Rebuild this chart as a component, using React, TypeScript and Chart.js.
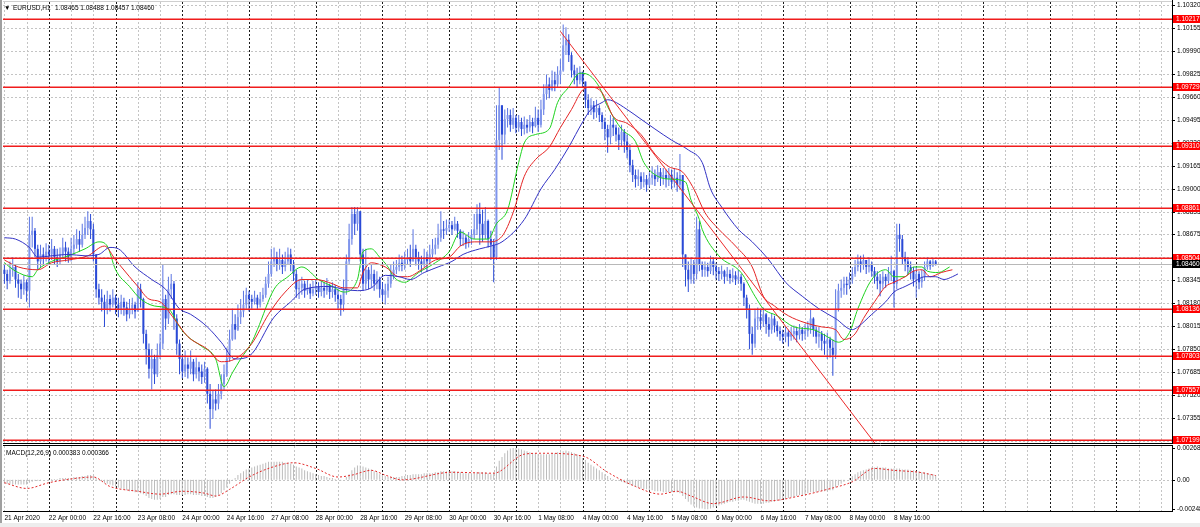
import { useEffect, useRef } from 'react';
import { Chart, registerables } from 'chart.js';

Chart.register(...registerables);

const FONT_FAMILY = "'Liberation Sans', Arial, sans-serif";
const FONT_SIZE = 6.5;

const chartTitle = 'EURUSD,H1';
const titleValues = '1.08465 1.08488 1.08457 1.08460';
const macdTitle = 'MACD(12,26,9) 0.000383 0.000366';

const timeLabels = ['21 Apr 2020', '22 Apr 00:00', '22 Apr 16:00', '23 Apr 08:00', '24 Apr 00:00', '24 Apr 16:00', '27 Apr 08:00', '28 Apr 00:00', '28 Apr 16:00', '29 Apr 08:00', '30 Apr 00:00', '30 Apr 16:00', '1 May 08:00', '4 May 00:00', '4 May 16:00', '5 May 08:00', '6 May 00:00', '6 May 16:00', '7 May 08:00', '8 May 00:00', '8 May 16:00'];
const timeLabelIdx = [0, 16, 32, 48, 64, 80, 96, 112, 128, 144, 160, 176, 192, 208, 224, 240, 256, 272, 288, 304, 320];
const daySeparatorIdx = [16, 40, 64, 88, 112, 136, 160, 184, 208, 232, 256, 280, 304, 328, 352, 376, 400];

const priceTicks = [1.1032, 1.10155, 1.0999, 1.09825, 1.0966, 1.09495, 1.0933, 1.09165, 1.09, 1.08835, 1.08675, 1.0851, 1.08345, 1.0818, 1.08015, 1.0785, 1.07685, 1.0752, 1.07355, 1.0719];
const levels = [1.10217, 1.09729, 1.0931, 1.08861, 1.08504, 1.08136, 1.07803, 1.07557, 1.07199];
const bidPrice = 1.0846;

const firstOpen = 1.0842;
const closes = [
  1.0839, 1.0834, 1.0842, 1.0844, 1.0835, 1.0832, 1.0828, 1.0833, 1.0827, 1.0867, 1.0870, 1.0857, 1.0848, 1.0853, 1.0851, 1.0855,
  1.0853, 1.0857, 1.0851, 1.0848, 1.0853, 1.0858, 1.0855, 1.0851, 1.0857, 1.0860, 1.0864, 1.0860, 1.0867, 1.0872, 1.0877, 1.0871,
  1.0853, 1.0828, 1.0822, 1.0819, 1.0814, 1.0821, 1.0817, 1.0822, 1.0817, 1.0814, 1.0819, 1.0815, 1.0810, 1.0814, 1.0817, 1.0812,
  1.0828, 1.0821, 1.0796, 1.0785, 1.0771, 1.0778, 1.0767, 1.0781, 1.0789, 1.0821, 1.0807, 1.0828, 1.0832, 1.0807, 1.0789, 1.0778,
  1.0769, 1.0774, 1.0771, 1.0776, 1.0767, 1.0772, 1.0769, 1.0765, 1.0771, 1.0753, 1.0742, 1.0749, 1.0746, 1.0753, 1.0760, 1.0767,
  1.0778, 1.0792, 1.0803, 1.0799, 1.0808, 1.0812, 1.0817, 1.0824, 1.0821, 1.0819, 1.0822, 1.0817, 1.0821, 1.0824, 1.0832, 1.0839,
  1.0848, 1.0851, 1.0846, 1.0849, 1.0844, 1.0848, 1.0853, 1.0846, 1.0839, 1.0828, 1.0829, 1.0832, 1.0827, 1.0829, 1.0825, 1.0828,
  1.0830, 1.0826, 1.0829, 1.0827, 1.0831, 1.0826, 1.0828, 1.0824, 1.0821, 1.0817, 1.0828, 1.0848, 1.0864, 1.0882, 1.0875, 1.0884,
  1.0853, 1.0832, 1.0842, 1.0835, 1.0839, 1.0832, 1.0835, 1.0828, 1.0824, 1.0827, 1.0832, 1.0839, 1.0842, 1.0844, 1.0847, 1.0845,
  1.0849, 1.0851, 1.0848, 1.0857, 1.0851, 1.0848, 1.0846, 1.0851, 1.0848, 1.0853, 1.0857, 1.0860, 1.0865, 1.0871, 1.0870, 1.0872,
  1.0874, 1.0871, 1.0875, 1.0870, 1.0864, 1.0865, 1.0861, 1.0864, 1.0867, 1.0871, 1.0882, 1.0875, 1.0867, 1.0877, 1.0864, 1.0860,
  1.0851, 1.0935, 1.0960, 1.0939, 1.0950, 1.0953, 1.0946, 1.0951, 1.0944, 1.0948, 1.0943, 1.0946, 1.0944, 1.0948, 1.0945, 1.0951,
  1.0946, 1.0957, 1.0968, 1.0975, 1.0971, 1.0978, 1.0975, 1.0982, 1.0985, 1.1003, 1.1007, 1.0996, 1.0985, 1.0982, 1.0978, 1.0984,
  1.0977, 1.0964, 1.0958, 1.0960, 1.0955, 1.0958, 1.0953, 1.0948, 1.0943, 1.0937, 1.0946, 1.0944, 1.0939, 1.0935, 1.0941, 1.0934,
  1.0928, 1.0917, 1.0910, 1.0907, 1.0909, 1.0905, 1.0907, 1.0903, 1.0908, 1.0910, 1.0907, 1.0912, 1.0908, 1.0910, 1.0907, 1.0910,
  1.0905, 1.0908, 1.0903, 1.0910, 1.0853, 1.0842, 1.0835, 1.0846, 1.0839, 1.0871, 1.0846, 1.0842, 1.0844, 1.0841, 1.0848, 1.0844,
  1.0841, 1.0839, 1.0841, 1.0837, 1.0839, 1.0836, 1.0838, 1.0835, 1.0837, 1.0832, 1.0822, 1.0814, 1.0796, 1.0789, 1.0807, 1.0808,
  1.0805, 1.0810, 1.0803, 1.0799, 1.0807, 1.0802, 1.0798, 1.0796, 1.0794, 1.0797, 1.0794, 1.0796, 1.0798, 1.0795, 1.0799, 1.0796,
  1.0798, 1.0801, 1.0807, 1.0799, 1.0794, 1.0796, 1.0791, 1.0789, 1.0792, 1.0786, 1.0781, 1.0814, 1.0827, 1.0829, 1.0832, 1.0831,
  1.0835, 1.0839, 1.0844, 1.0848, 1.0846, 1.0849, 1.0844, 1.0846, 1.0841, 1.0837, 1.0834, 1.0832, 1.0837, 1.0834, 1.0839, 1.0841,
  1.0832, 1.0867, 1.0864, 1.0851, 1.0848, 1.0844, 1.0841, 1.0835, 1.0839, 1.0833, 1.0837, 1.0844, 1.0848, 1.0845, 1.0848, 1.0846,
];
const highs = [
  1.0846, 1.0842, 1.0848, 1.0851, 1.0846, 1.0839, 1.0835, 1.0838, 1.0835, 1.0880, 1.0880, 1.0872, 1.0860, 1.0860, 1.0858, 1.0861,
  1.0860, 1.0864, 1.0859, 1.0857, 1.0858, 1.0865, 1.0862, 1.0858, 1.0865, 1.0867, 1.0871, 1.0870, 1.0875, 1.0880, 1.0884, 1.0882,
  1.0875, 1.0853, 1.0832, 1.0828, 1.0824, 1.0827, 1.0824, 1.0828, 1.0824, 1.0822, 1.0824, 1.0822, 1.0819, 1.0821, 1.0822, 1.0819,
  1.0833, 1.0832, 1.0822, 1.0799, 1.0789, 1.0785, 1.0781, 1.0789, 1.0796, 1.0846, 1.0824, 1.0837, 1.0839, 1.0834, 1.0810, 1.0792,
  1.0781, 1.0784, 1.0779, 1.0784, 1.0778, 1.0779, 1.0776, 1.0774, 1.0776, 1.0772, 1.0760, 1.0755, 1.0756, 1.0760, 1.0767, 1.0774,
  1.0786, 1.0799, 1.0814, 1.0810, 1.0817, 1.0821, 1.0827, 1.0829, 1.0827, 1.0824, 1.0827, 1.0824, 1.0826, 1.0829, 1.0837, 1.0848,
  1.0857, 1.0858, 1.0855, 1.0857, 1.0853, 1.0855, 1.0858, 1.0857, 1.0849, 1.0842, 1.0835, 1.0837, 1.0834, 1.0835, 1.0832, 1.0834,
  1.0835, 1.0833, 1.0834, 1.0833, 1.0836, 1.0832, 1.0833, 1.0831, 1.0828, 1.0824, 1.0835, 1.0853, 1.0875, 1.0887, 1.0887, 1.0887,
  1.0884, 1.0857, 1.0857, 1.0844, 1.0846, 1.0842, 1.0841, 1.0837, 1.0833, 1.0832, 1.0837, 1.0846, 1.0848, 1.0849, 1.0853, 1.0852,
  1.0855, 1.0857, 1.0860, 1.0871, 1.0860, 1.0855, 1.0852, 1.0857, 1.0855, 1.0860, 1.0864, 1.0865, 1.0875, 1.0884, 1.0877, 1.0878,
  1.0878, 1.0877, 1.0880, 1.0877, 1.0871, 1.0870, 1.0867, 1.0869, 1.0871, 1.0882, 1.0889, 1.0890, 1.0885, 1.0887, 1.0878, 1.0870,
  1.0864, 1.0960, 1.0973, 1.0957, 1.0957, 1.0958, 1.0957, 1.0958, 1.0953, 1.0953, 1.0951, 1.0952, 1.0950, 1.0953, 1.0951, 1.0959,
  1.0957, 1.0964, 1.0975, 1.0982, 1.0980, 1.0985, 1.0984, 1.0988, 1.0993, 1.1018, 1.1016, 1.1011, 1.0998, 1.0989, 1.0987, 1.0988,
  1.0983, 1.0977, 1.0968, 1.0965, 1.0963, 1.0964, 1.0960, 1.0955, 1.0951, 1.0946, 1.0953, 1.0951, 1.0946, 1.0944, 1.0946, 1.0943,
  1.0939, 1.0932, 1.0921, 1.0914, 1.0914, 1.0912, 1.0912, 1.0910, 1.0912, 1.0916, 1.0914, 1.0917, 1.0915, 1.0915, 1.0914, 1.0915,
  1.0914, 1.0915, 1.0912, 1.0925, 1.0910, 1.0853, 1.0848, 1.0851, 1.0849, 1.0880, 1.0877, 1.0848, 1.0848, 1.0847, 1.0852, 1.0851,
  1.0847, 1.0844, 1.0845, 1.0842, 1.0844, 1.0842, 1.0843, 1.0841, 1.0842, 1.0839, 1.0833, 1.0824, 1.0817, 1.0801, 1.0814, 1.0815,
  1.0814, 1.0815, 1.0811, 1.0808, 1.0811, 1.0809, 1.0805, 1.0801, 1.0799, 1.0801, 1.0799, 1.0801, 1.0802, 1.0801, 1.0803, 1.0801,
  1.0803, 1.0805, 1.0814, 1.0808, 1.0801, 1.0801, 1.0798, 1.0796, 1.0797, 1.0794, 1.0792, 1.0828, 1.0832, 1.0835, 1.0837, 1.0837,
  1.0840, 1.0844, 1.0849, 1.0853, 1.0852, 1.0853, 1.0849, 1.0851, 1.0848, 1.0844, 1.0841, 1.0839, 1.0841, 1.0839, 1.0844, 1.0852,
  1.0842, 1.0875, 1.0875, 1.0867, 1.0855, 1.0851, 1.0848, 1.0844, 1.0844, 1.0841, 1.0842, 1.0848, 1.0851, 1.0849, 1.0850, 1.0849,
];
const lows = [
  1.0832, 1.0828, 1.0832, 1.0837, 1.0829, 1.0822, 1.0821, 1.0824, 1.0819, 1.0815, 1.0858, 1.0851, 1.0842, 1.0844, 1.0846, 1.0848,
  1.0846, 1.0849, 1.0846, 1.0844, 1.0846, 1.0851, 1.0848, 1.0847, 1.0848, 1.0853, 1.0857, 1.0855, 1.0858, 1.0864, 1.0867, 1.0864,
  1.0848, 1.0822, 1.0817, 1.0812, 1.0801, 1.0810, 1.0812, 1.0815, 1.0810, 1.0808, 1.0810, 1.0809, 1.0805, 1.0807, 1.0810, 1.0807,
  1.0814, 1.0815, 1.0789, 1.0774, 1.0764, 1.0756, 1.0760, 1.0765, 1.0778, 1.0785, 1.0799, 1.0803, 1.0821, 1.0799, 1.0781, 1.0767,
  1.0764, 1.0765, 1.0764, 1.0767, 1.0762, 1.0764, 1.0762, 1.0760, 1.0761, 1.0746, 1.0728, 1.0735, 1.0741, 1.0742, 1.0749, 1.0755,
  1.0765, 1.0776, 1.0791, 1.0792, 1.0798, 1.0803, 1.0808, 1.0814, 1.0812, 1.0814, 1.0817, 1.0814, 1.0815, 1.0819, 1.0822, 1.0829,
  1.0837, 1.0844, 1.0841, 1.0842, 1.0839, 1.0841, 1.0846, 1.0841, 1.0834, 1.0822, 1.0821, 1.0824, 1.0822, 1.0824, 1.0821, 1.0823,
  1.0824, 1.0822, 1.0823, 1.0822, 1.0824, 1.0821, 1.0822, 1.0819, 1.0814, 1.0809, 1.0812, 1.0824, 1.0846, 1.0860, 1.0867, 1.0870,
  1.0848, 1.0827, 1.0828, 1.0828, 1.0829, 1.0827, 1.0828, 1.0822, 1.0819, 1.0817, 1.0822, 1.0829, 1.0835, 1.0839, 1.0841, 1.0841,
  1.0842, 1.0846, 1.0844, 1.0848, 1.0845, 1.0842, 1.0840, 1.0844, 1.0841, 1.0846, 1.0851, 1.0853, 1.0857, 1.0862, 1.0864, 1.0867,
  1.0869, 1.0867, 1.0870, 1.0865, 1.0859, 1.0859, 1.0857, 1.0858, 1.0860, 1.0864, 1.0867, 1.0860, 1.0862, 1.0864, 1.0858, 1.0849,
  1.0833, 1.0849, 1.0928, 1.0921, 1.0932, 1.0944, 1.0941, 1.0943, 1.0940, 1.0941, 1.0938, 1.0939, 1.0940, 1.0941, 1.0940, 1.0944,
  1.0941, 1.0944, 1.0953, 1.0964, 1.0965, 1.0970, 1.0970, 1.0973, 1.0975, 1.0984, 1.0996, 1.0991, 1.0980, 1.0975, 1.0973, 1.0975,
  1.0973, 1.0958, 1.0953, 1.0953, 1.0950, 1.0951, 1.0948, 1.0943, 1.0935, 1.0926, 1.0932, 1.0938, 1.0934, 1.0928, 1.0930, 1.0926,
  1.0922, 1.0912, 1.0905, 1.0901, 1.0902, 1.0900, 1.0901, 1.0898, 1.0901, 1.0903, 1.0902, 1.0905, 1.0902, 1.0903, 1.0901, 1.0902,
  1.0900, 1.0901, 1.0898, 1.0900, 1.0844, 1.0830, 1.0826, 1.0832, 1.0832, 1.0835, 1.0841, 1.0837, 1.0837, 1.0837, 1.0839, 1.0838,
  1.0835, 1.0834, 1.0835, 1.0832, 1.0834, 1.0832, 1.0833, 1.0831, 1.0832, 1.0827, 1.0816, 1.0807, 1.0785, 1.0781, 1.0786, 1.0799,
  1.0799, 1.0801, 1.0796, 1.0794, 1.0796, 1.0797, 1.0794, 1.0791, 1.0789, 1.0790, 1.0787, 1.0791, 1.0792, 1.0790, 1.0792, 1.0791,
  1.0792, 1.0794, 1.0796, 1.0794, 1.0789, 1.0786, 1.0784, 1.0781, 1.0778, 1.0779, 1.0766, 1.0778, 1.0812, 1.0822, 1.0824, 1.0824,
  1.0828, 1.0832, 1.0837, 1.0841, 1.0840, 1.0842, 1.0839, 1.0840, 1.0837, 1.0832, 1.0828, 1.0823, 1.0828, 1.0829, 1.0832, 1.0834,
  1.0815, 1.0828, 1.0855, 1.0846, 1.0841, 1.0839, 1.0835, 1.0830, 1.0822, 1.0828, 1.0829, 1.0834, 1.0842, 1.0842, 1.0844, 1.0845,
];

// Moving averages at the listed bar positions
const greenIdx = [0, 4, 10, 12, 17, 23, 29, 34, 37, 40, 45, 49, 54, 59, 63, 66, 71, 76, 79, 82, 85, 89, 91, 97, 102, 107, 113, 118, 122, 127, 129, 132, 135, 138, 140, 144, 149, 155, 160, 164, 169, 174, 177, 181, 185, 187, 191, 196, 199, 203, 207, 210, 214, 217, 222, 227, 230, 235, 240, 245, 247, 250, 251, 257, 265, 270, 273, 278, 284, 291, 296, 300, 304, 307, 312, 317, 320, 324, 327, 330, 332, 336, 340];
const greenVal = [1.0847, 1.0841, 1.0837, 1.0842, 1.0848, 1.0852, 1.0857, 1.0862, 1.0859, 1.0842, 1.0830, 1.0821, 1.0816, 1.0814, 1.0801, 1.0794, 1.0787, 1.0778, 1.0758, 1.0768, 1.0778, 1.0790, 1.0799, 1.0828, 1.0837, 1.0844, 1.0835, 1.0830, 1.0826, 1.0835, 1.0855, 1.0857, 1.0851, 1.0844, 1.0837, 1.0833, 1.0840, 1.0847, 1.0855, 1.0869, 1.0864, 1.0864, 1.0875, 1.0885, 1.0919, 1.0933, 1.0939, 1.0943, 1.0962, 1.0973, 1.0983, 1.0982, 1.0973, 1.0959, 1.0943, 1.0934, 1.0919, 1.0909, 1.0907, 1.0905, 1.0892, 1.0878, 1.0871, 1.0852, 1.0840, 1.0823, 1.0814, 1.0809, 1.0801, 1.0799, 1.0794, 1.0790, 1.0797, 1.0814, 1.0835, 1.0842, 1.0837, 1.0837, 1.0844, 1.0844, 1.0841, 1.0840, 1.0844];
const redIdx = [0, 5, 12, 17, 23, 30, 36, 40, 45, 48, 52, 56, 61, 66, 73, 78, 83, 89, 95, 101, 107, 112, 118, 122, 127, 129, 132, 137, 142, 145, 150, 155, 160, 164, 169, 174, 179, 183, 187, 191, 196, 200, 204, 208, 211, 215, 219, 224, 229, 234, 239, 244, 248, 252, 257, 263, 269, 273, 277, 282, 288, 294, 299, 302, 306, 309, 313, 317, 320, 324, 327, 330, 333, 337, 341];
const redVal = [1.0849, 1.0844, 1.0842, 1.0847, 1.0849, 1.0852, 1.0859, 1.0849, 1.0837, 1.0830, 1.0821, 1.0819, 1.0807, 1.0794, 1.0785, 1.0776, 1.0778, 1.0789, 1.0810, 1.0826, 1.0835, 1.0835, 1.0832, 1.0829, 1.0829, 1.0840, 1.0847, 1.0844, 1.0837, 1.0837, 1.0842, 1.0849, 1.0851, 1.0859, 1.0862, 1.0862, 1.0866, 1.0883, 1.0909, 1.0921, 1.0930, 1.0944, 1.0957, 1.0971, 1.0973, 1.0969, 1.0952, 1.0947, 1.0939, 1.0925, 1.0916, 1.0912, 1.0900, 1.0883, 1.0871, 1.0859, 1.0844, 1.0823, 1.0816, 1.0809, 1.0804, 1.0801, 1.0799, 1.0792, 1.0796, 1.0807, 1.0819, 1.0830, 1.0833, 1.0837, 1.0841, 1.0842, 1.0837, 1.0840, 1.0842];
const blueIdx = [0, 4, 9, 12, 17, 23, 29, 34, 38, 41, 47, 53, 58, 63, 67, 73, 78, 83, 88, 97, 103, 108, 117, 122, 127, 132, 137, 142, 146, 151, 156, 161, 165, 171, 175, 179, 187, 193, 198, 203, 208, 211, 215, 217, 219, 224, 229, 234, 240, 246, 251, 254, 258, 264, 269, 275, 281, 287, 293, 299, 305, 307, 312, 317, 320, 324, 327, 331, 335, 338, 341, 343];
const blueVal = [1.0865, 1.0864, 1.0858, 1.0851, 1.0852, 1.0853, 1.0852, 1.0853, 1.0858, 1.0857, 1.0844, 1.0835, 1.0828, 1.0814, 1.0810, 1.0801, 1.0790, 1.0778, 1.0780, 1.0808, 1.0819, 1.0828, 1.0830, 1.0828, 1.0827, 1.0829, 1.0838, 1.0837, 1.0835, 1.0840, 1.0844, 1.0848, 1.0853, 1.0857, 1.0859, 1.0862, 1.0878, 1.0900, 1.0914, 1.0930, 1.0948, 1.0957, 1.0962, 1.0964, 1.0963, 1.0957, 1.0950, 1.0943, 1.0935, 1.0928, 1.0919, 1.0900, 1.0887, 1.0871, 1.0862, 1.0849, 1.0833, 1.0823, 1.0814, 1.0807, 1.0799, 1.0801, 1.0810, 1.0819, 1.0826, 1.0830, 1.0833, 1.0837, 1.0837, 1.0835, 1.0837, 1.0839];

const trendIdx = [200, 316];
const trendVal = [1.1013, 1.071];

const macdMain = [
  -0.00024, -0.00032, -0.00032, -0.0004, -0.0004, -0.0004, -0.0004, -0.0004, -0.0004, -0.00024, -0.00016, -0.00008, -0.00008, -0.00008, 0, 0,
  0.00008, 0.00008, 0.00008, 0.00008, 0.00016, 0.00016, 0.00016, 0.00016, 0.00016, 0.00024, 0.00024, 0.00024, 0.00032, 0.00032, 0.0004, 0.0004,
  0.00032, 0.00016, 0, -0.00008, -0.00024, -0.00032, -0.0004, -0.00048, -0.00056, -0.00064, -0.00072, -0.0008, -0.00088, -0.00096, -0.00096, -0.00104,
  -0.00104, -0.00112, -0.0012, -0.00136, -0.00152, -0.0016, -0.00168, -0.00168, -0.0016, -0.00144, -0.00144, -0.00128, -0.0012, -0.0012, -0.00128, -0.00128,
  -0.00128, -0.00128, -0.0012, -0.0012, -0.00128, -0.00128, -0.00128, -0.00136, -0.00136, -0.00144, -0.00152, -0.00152, -0.00144, -0.00128, -0.00112, -0.00088,
  -0.00064, -0.00032, -0.00008, 0.00016, 0.0004, 0.00056, 0.00072, 0.00088, 0.00096, 0.00104, 0.00112, 0.0012, 0.00128, 0.00136, 0.00144, 0.00152,
  0.00152, 0.00152, 0.00152, 0.00152, 0.00152, 0.00144, 0.00144, 0.00136, 0.00128, 0.00112, 0.00104, 0.00096, 0.0008, 0.00072, 0.00064, 0.00056,
  0.00048, 0.0004, 0.00032, 0.00032, 0.00024, 0.00016, 0.00016, 0.00008, 0, -0.00008, 0, 0.00024, 0.00048, 0.0008, 0.00104, 0.0012,
  0.0012, 0.00112, 0.00104, 0.00096, 0.00088, 0.00072, 0.00064, 0.00048, 0.0004, 0.00032, 0.00024, 0.00024, 0.00024, 0.00024, 0.00024, 0.00032,
  0.00032, 0.0004, 0.0004, 0.00048, 0.00048, 0.00048, 0.00048, 0.00056, 0.00056, 0.00056, 0.00056, 0.00064, 0.00064, 0.00072, 0.00072, 0.00072,
  0.00072, 0.00072, 0.00072, 0.00064, 0.00064, 0.00056, 0.00056, 0.00056, 0.00056, 0.00056, 0.00064, 0.00064, 0.00064, 0.00064, 0.00056, 0.00048,
  0.00064, 0.00112, 0.0016, 0.00192, 0.00224, 0.00248, 0.00264, 0.002686, 0.00268, 0.00264, 0.00256, 0.00248, 0.0024, 0.00232, 0.00224, 0.00224,
  0.00216, 0.00216, 0.00216, 0.00216, 0.00216, 0.00224, 0.00224, 0.00232, 0.00232, 0.0024, 0.00248, 0.0024, 0.00232, 0.00224, 0.00216, 0.002,
  0.00184, 0.00168, 0.00144, 0.00128, 0.00112, 0.00096, 0.0008, 0.00064, 0.00048, 0.00032, 0.00016, 0.00008, 0, -0.00008, -0.00016, -0.00024,
  -0.00032, -0.0004, -0.00048, -0.00056, -0.00064, -0.00072, -0.0008, -0.0008, -0.00088, -0.00088, -0.00096, -0.00096, -0.00096, -0.00104, -0.00104, -0.00104,
  -0.00104, -0.00104, -0.00104, -0.00112, -0.00136, -0.0016, -0.00184, -0.00208, -0.00224, -0.00232, -0.0024, -0.0024, -0.00248, -0.00248, -0.0024, -0.00232,
  -0.00224, -0.00216, -0.00208, -0.002, -0.00192, -0.00184, -0.00184, -0.00176, -0.00176, -0.00168, -0.00168, -0.00176, -0.00184, -0.00192, -0.002, -0.002,
  -0.002, -0.002, -0.00192, -0.00192, -0.00184, -0.00184, -0.00176, -0.00176, -0.00168, -0.0016, -0.00152, -0.00144, -0.00144, -0.00136, -0.00128, -0.00128,
  -0.0012, -0.00112, -0.00104, -0.00104, -0.00104, -0.00096, -0.00096, -0.00096, -0.00096, -0.00088, -0.00088, -0.00064, -0.00048, -0.00032, -0.00016, 0,
  0.00016, 0.00032, 0.00048, 0.00064, 0.00072, 0.0008, 0.00088, 0.00096, 0.00104, 0.00104, 0.00112, 0.00104, 0.00104, 0.00104, 0.00096, 0.00096,
  0.00096, 0.00096, 0.00096, 0.00088, 0.00088, 0.00088, 0.0008, 0.0008, 0.00072, 0.00072, 0.00064, 0.00064, 0.00056, 0.00048, 0.00048, 0.000383,
];
const signalIdx = [0, 8, 16, 24, 32, 38, 48, 56, 64, 72, 76, 81, 88, 96, 104, 112, 120, 125, 132, 137, 143, 161, 176, 187, 193, 208, 217, 227, 236, 242, 247, 255, 266, 275, 286, 296, 305, 313, 320, 329, 335];
const signalVal = [-0.00024, -0.00072, -0.00024, 0.00008, 0.00024, -0.00056, -0.00096, -0.0012, -0.00096, -0.00112, -0.00136, -0.0008, 0.00024, 0.00104, 0.00144, 0.00096, 0.00024, 0.0004, 0.0008, 0.0004, 0, 0.00064, 0.00056, 0.00216, 0.00224, 0.002, 0.00064, -0.00056, -0.0012, -0.00096, -0.00136, -0.002, -0.00144, -0.00176, -0.00136, -0.0008, -0.00016, 0.00096, 0.0008, 0.00064, 0.000366];
const macdTicks = [0.002686, 0, -0.00248];
const macdTickLabels = ['0.002686', '0.00', '-0.00248'];

const X_MIN = -0.5;
const X_MAX = 420;
const PRICE_MIN = 1.07177;
const PRICE_MAX = 1.10341;
const MACD_MIN = -0.00262;
const MACD_MAX = 0.00285;

const UP_BODY = '#7f95ec';
const UP_WICK = '#5a74e2';
const DOWN_COLOR = '#2a4ad6';
const LEVEL_COLOR = '#f01c1c';

const font = { family: FONT_FAMILY, size: FONT_SIZE };
const fontStr = `${FONT_SIZE}px ${FONT_FAMILY}`;

function pts(idx: number[], vals: number[]) {
  return idx.map((x, k) => ({ x, y: vals[k] }));
}

function drawVerticalGrid(ctx: any, xs: any, a: any) {
  ctx.lineWidth = 1;
  ctx.strokeStyle = '#c4c4c4';
  ctx.setLineDash([2, 2]);
  ctx.beginPath();
  for (let i = 0; i <= X_MAX; i += 8) {
    if (daySeparatorIdx.includes(i)) continue;
    const x = Math.round(xs.getPixelForValue(i)) + 0.5;
    ctx.moveTo(x, a.top);
    ctx.lineTo(x, a.bottom);
  }
  ctx.stroke();
  ctx.strokeStyle = '#1a1a1a';
  ctx.setLineDash([2, 2]);
  ctx.beginPath();
  for (const i of daySeparatorIdx) {
    const x = Math.round(xs.getPixelForValue(i)) + 0.5;
    ctx.moveTo(x, a.top);
    ctx.lineTo(x, a.bottom);
  }
  ctx.stroke();
  ctx.setLineDash([]);
}

const mainPlugin = {
  id: 'mtMain',
  beforeDatasetsDraw(chart: any) {
    const { ctx, chartArea: a, scales } = chart;
    const ys = scales.y;
    ctx.save();
    ctx.beginPath();
    ctx.rect(a.left, a.top, a.right - a.left, a.bottom - a.top);
    ctx.clip();
    ctx.lineWidth = 1;
    ctx.strokeStyle = '#c4c4c4';
    ctx.setLineDash([2, 2]);
    ctx.beginPath();
    for (const v of priceTicks) {
      const y = Math.round(ys.getPixelForValue(v)) + 0.5;
      ctx.moveTo(a.left, y);
      ctx.lineTo(a.right, y);
    }
    ctx.stroke();
    drawVerticalGrid(ctx, scales.x, a);
    ctx.restore();
  },
  afterDatasetsDraw(chart: any) {
    const { ctx, chartArea: a, scales } = chart;
    const ys = scales.y;
    ctx.save();
    ctx.lineWidth = 1;
    ctx.strokeStyle = '#b8b8b8';
    let y = Math.round(ys.getPixelForValue(bidPrice)) + 0.5;
    ctx.beginPath();
    ctx.moveTo(a.left, y);
    ctx.lineTo(a.right, y);
    ctx.stroke();
    ctx.lineWidth = 1.5;
    ctx.strokeStyle = LEVEL_COLOR;
    ctx.beginPath();
    for (const lv of levels) {
      y = Math.round(ys.getPixelForValue(lv)) + 0.25;
      ctx.moveTo(a.left, y);
      ctx.lineTo(a.right, y);
    }
    ctx.stroke();
    ctx.restore();
  },
  afterDraw(chart: any) {
    const { ctx, chartArea: a, scales, width } = chart;
    const ys = scales.y;
    ctx.save();
    ctx.lineWidth = 1;
    ctx.strokeStyle = '#cfcfcf';
    ctx.beginPath();
    ctx.moveTo(a.left, a.top - 0.5);
    ctx.lineTo(a.right, a.top - 0.5);
    ctx.stroke();
    ctx.strokeStyle = '#000';
    ctx.beginPath();
    ctx.moveTo(a.right + 0.5, 0);
    ctx.lineTo(a.right + 0.5, a.bottom + 1);
    ctx.moveTo(a.left, a.bottom + 0.5);
    ctx.lineTo(a.right + 1, a.bottom + 0.5);
    ctx.stroke();
    ctx.beginPath();
    for (const v of priceTicks) {
      const y = Math.round(ys.getPixelForValue(v)) + 0.5;
      ctx.moveTo(a.right, y);
      ctx.lineTo(a.right + 3, y);
    }
    ctx.stroke();
    ctx.font = fontStr;
    ctx.textBaseline = 'middle';
    ctx.textAlign = 'left';
    const tag = (v: number, bg: string, text: string) => {
      const y = Math.round(ys.getPixelForValue(v));
      ctx.fillStyle = bg;
      ctx.fillRect(a.right + 1, y - 4, width - a.right - 1, 8);
      ctx.fillStyle = '#fff';
      ctx.fillText(text, a.right + 4, y + 0.5);
    };
    for (const lv of levels) tag(lv, '#ff0000', lv.toFixed(5));
    tag(bidPrice, '#000', bidPrice.toFixed(5));
    ctx.fillStyle = '#000';
    ctx.fillText('\u25BC', 4, 8);
    ctx.fillText(chartTitle, 13, 8);
    ctx.fillText(titleValues, 55, 8);
    ctx.restore();
  },
};

const macdPlugin = {
  id: 'mtMacd',
  beforeDatasetsDraw(chart: any) {
    const { ctx, chartArea: a, scales } = chart;
    ctx.save();
    ctx.beginPath();
    ctx.rect(a.left, a.top, a.right - a.left, a.bottom - a.top);
    ctx.clip();
    ctx.lineWidth = 1;
    ctx.strokeStyle = '#c4c4c4';
    ctx.setLineDash([2, 2]);
    const y = Math.round(scales.y.getPixelForValue(0)) + 0.5;
    ctx.beginPath();
    ctx.moveTo(a.left, y);
    ctx.lineTo(a.right, y);
    ctx.stroke();
    drawVerticalGrid(ctx, scales.x, a);
    ctx.restore();
  },
  afterDraw(chart: any) {
    const { ctx, chartArea: a, scales } = chart;
    ctx.save();
    ctx.lineWidth = 1;
    ctx.strokeStyle = '#000';
    ctx.beginPath();
    ctx.moveTo(a.left, a.top - 0.5);
    ctx.lineTo(a.right + 1, a.top - 0.5);
    ctx.moveTo(a.right + 0.5, a.top - 1);
    ctx.lineTo(a.right + 0.5, a.bottom + 1);
    ctx.moveTo(a.left, a.bottom + 0.5);
    ctx.lineTo(a.right + 1, a.bottom + 0.5);
    for (const v of macdTicks) {
      const y = Math.round(scales.y.getPixelForValue(v)) + 0.5;
      ctx.moveTo(a.right, y);
      ctx.lineTo(a.right + 3, y);
    }
    ctx.stroke();
    ctx.font = fontStr;
    ctx.fillStyle = '#000';
    ctx.textBaseline = 'middle';
    ctx.fillText(macdTitle, 6, a.top + 7);
    ctx.restore();
  },
};

export default function App() {
  const mainRef = useRef<HTMLCanvasElement>(null);
  const macdRef = useRef<HTMLCanvasElement>(null);

  useEffect(() => {
    const opens = closes.map((c, i) => (i === 0 ? firstOpen : closes[i - 1]));
    const isUp = closes.map((c, i) => c >= opens[i]);
    const wickData = closes.map((c, i) => ({
      x: i,
      y: [Math.min(lows[i], opens[i], c), Math.max(highs[i], opens[i], c)],
    }));
    const bodyData = closes.map((c, i) => ({ x: i, y: [opens[i], c] }));

    const lineDs = (data: any[], color: string, order: number, extra: any = {}) => ({
      type: 'line',
      data,
      borderColor: color,
      borderWidth: 1,
      pointRadius: 0,
      fill: false,
      cubicInterpolationMode: 'monotone',
      order,
      ...extra,
    });

    const mainChart = new Chart(mainRef.current as HTMLCanvasElement, {
      type: 'bar',
      data: {
        datasets: [
          lineDs(pts(trendIdx, trendVal), '#ec2a2a', 0, { cubicInterpolationMode: 'default', tension: 0 }),
          lineDs(pts(blueIdx, blueVal), '#3232c4', 1),
          lineDs(pts(redIdx, redVal), '#e42424', 2),
          lineDs(pts(greenIdx, greenVal), '#1ed21e', 3),
          {
            type: 'bar',
            data: bodyData,
            barThickness: 2,
            minBarLength: 1,
            grouped: false,
            inflateAmount: 0,
            borderWidth: 0,
            backgroundColor: (c: any) => (isUp[c.dataIndex] ? UP_BODY : DOWN_COLOR),
            order: 4,
          },
          {
            type: 'bar',
            data: wickData,
            barThickness: 1,
            grouped: false,
            inflateAmount: 0,
            borderWidth: 0,
            backgroundColor: (c: any) => (isUp[c.dataIndex] ? UP_WICK : DOWN_COLOR),
            order: 5,
          },
        ] as any,
      },
      options: {
        animation: false,
        responsive: false,
        maintainAspectRatio: false,
        devicePixelRatio: 1,
        events: [],
        layout: { padding: { left: 3, top: 2, right: 0, bottom: 1 } },
        plugins: { legend: { display: false }, tooltip: { enabled: false } },
        scales: {
          x: {
            type: 'linear',
            display: false,
            min: X_MIN,
            max: X_MAX,
            offset: false,
            grid: { display: false, offset: false },
          },
          y: {
            type: 'linear',
            position: 'right',
            min: PRICE_MIN,
            max: PRICE_MAX,
            beginAtZero: false,
            grid: { display: false, drawTicks: false },
            border: { display: false },
            ticks: {
              padding: 5,
              font,
              color: '#000',
              autoSkip: false,
              callback: (v: any) => Number(v).toFixed(5),
            },
            afterBuildTicks: (s: any) => {
              s.ticks = priceTicks.map((v) => ({ value: v }));
            },
            afterFit: (s: any) => {
              s.width = 28;
              s.paddingTop = 0;
              s.paddingBottom = 0;
            },
          },
        } as any,
      },
      plugins: [mainPlugin],
    } as any);

    const macdChart = new Chart(macdRef.current as HTMLCanvasElement, {
      type: 'bar',
      data: {
        datasets: [
          lineDs(pts(signalIdx, signalVal), '#e42a2a', 0, { borderDash: [2, 2] }),
          {
            type: 'bar',
            data: macdMain.map((v, i) => ({ x: i, y: v })),
            barThickness: 1,
            grouped: false,
            inflateAmount: 0,
            borderWidth: 0,
            backgroundColor: '#bcbcbc',
            order: 1,
          },
        ] as any,
      },
      options: {
        animation: false,
        responsive: false,
        maintainAspectRatio: false,
        devicePixelRatio: 1,
        events: [],
        layout: { padding: { left: 3, top: 2, right: 0, bottom: 0 } },
        plugins: { legend: { display: false }, tooltip: { enabled: false } },
        scales: {
          x: {
            type: 'linear',
            position: 'bottom',
            min: X_MIN,
            max: X_MAX,
            offset: false,
            grid: { display: false, drawTicks: false, offset: false },
            border: { display: false },
            ticks: {
              autoSkip: false,
              maxRotation: 0,
              minRotation: 0,
              align: 'start',
              padding: 3,
              font,
              color: '#000',
              callback: (v: any, idx: number) => timeLabels[idx] ?? '',
            },
            afterBuildTicks: (s: any) => {
              s.ticks = timeLabelIdx.map((v) => ({ value: v }));
            },
            afterFit: (s: any) => {
              s.height = 16;
              s.paddingLeft = 0;
              s.paddingRight = 0;
            },
          },
          y: {
            type: 'linear',
            position: 'right',
            min: MACD_MIN,
            max: MACD_MAX,
            beginAtZero: false,
            grid: { display: false, drawTicks: false },
            border: { display: false },
            ticks: {
              padding: 5,
              font,
              color: '#000',
              autoSkip: false,
              callback: (v: any, idx: number) => macdTickLabels[idx] ?? '',
            },
            afterBuildTicks: (s: any) => {
              s.ticks = macdTicks.map((v) => ({ value: v }));
            },
            afterFit: (s: any) => {
              s.width = 28;
              s.paddingTop = 0;
              s.paddingBottom = 0;
            },
          },
        } as any,
      },
      plugins: [macdPlugin],
    } as any);

    return () => {
      mainChart.destroy();
      macdChart.destroy();
    };
  }, []);

  return (
    <div style={{ position: 'absolute', left: 0, top: 0, width: 1200, height: 527, background: '#fff', overflow: 'hidden' }}>
      <canvas ref={mainRef} width={1200} height={444} style={{ position: 'absolute', left: 0, top: 0, width: 1200, height: 444 }} />
      <canvas ref={macdRef} width={1200} height={83} style={{ position: 'absolute', left: 0, top: 444, width: 1200, height: 83 }} />
      <div style={{ position: 'absolute', left: 0, top: 523, width: 1200, height: 4, background: '#ededed' }} />
      <div style={{ position: 'absolute', left: 0, top: 0, width: 2, height: 523, background: '#a0a0a0' }} />
    </div>
  );
}
